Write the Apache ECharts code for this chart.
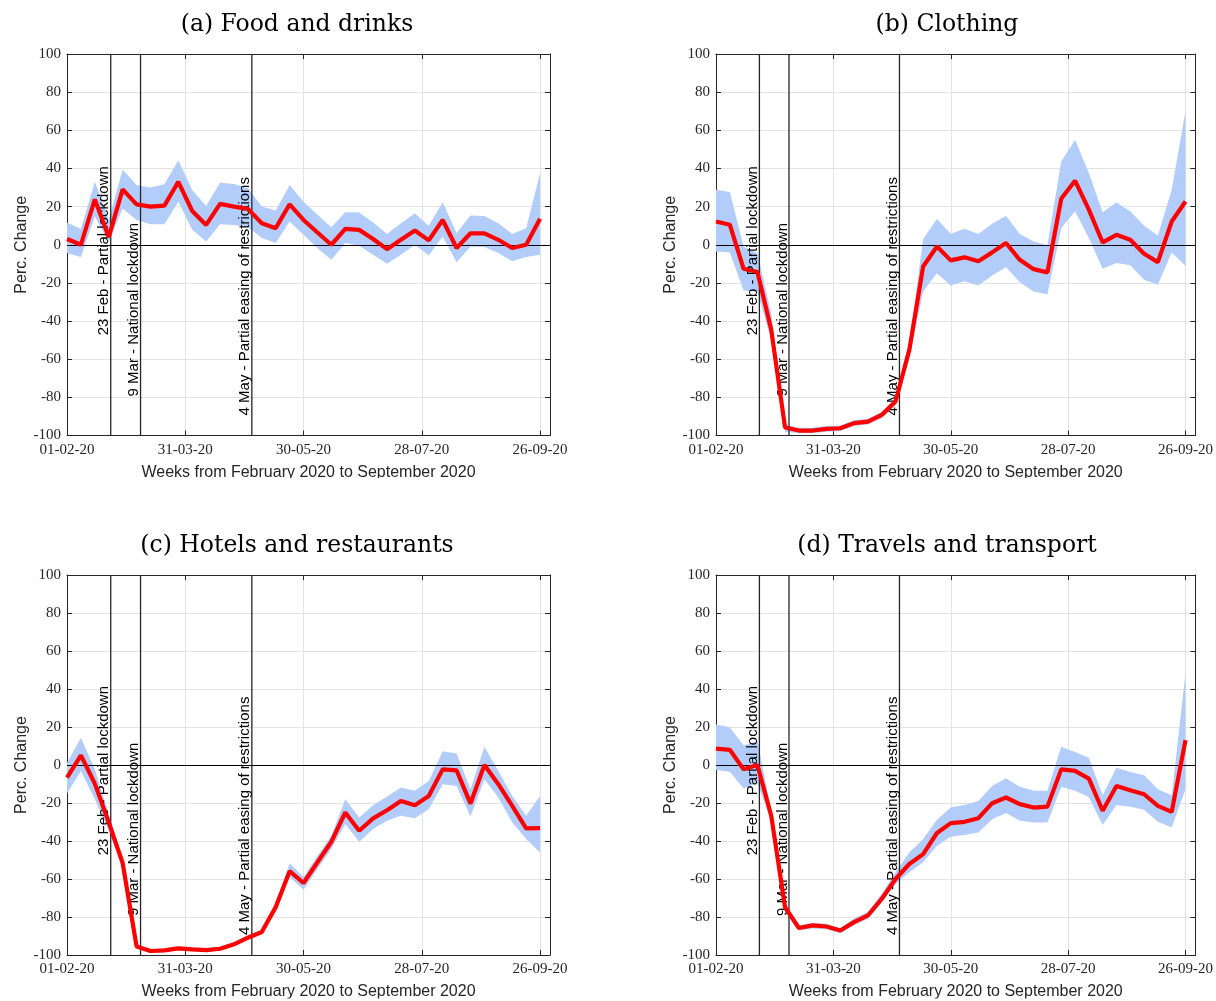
<!DOCTYPE html>
<html>
<head>
<meta charset="utf-8">
<script src="https://cdn.jsdelivr.net/npm/echarts@6/dist/echarts.min.js"></script>
<style>
  html, body { margin: 0; padding: 0; background: #fff; }
  #chart { width: 1216px; height: 1001px; }
</style>
</head>
<body>
<div id="chart"></div>
<script>
var chart = echarts.init(document.getElementById('chart'));

// days since 01-02-20, one point per week
var weekDay = [0, 7, 14, 21, 28, 35, 42, 49, 56, 63, 70, 77, 84, 91, 98, 105, 112, 119, 126,
    133, 140, 147, 154, 161, 168, 175, 182, 189, 196, 203, 210, 217, 224, 231, 238];

var tickLabels = ['01-02-20', '31-03-20', '30-05-20', '28-07-20', '26-09-20'];

var eventDays = [22, 37, 93];
var eventNames = ['23 Feb - Partial lockdown', '9 Mar - National lockdown', '4 May - Partial easing of restrictions'];

var titles = ['(a) Food and drinks', '(b) Clothing', '(c) Hotels and restaurants', '(d) Travels and transport'];

// (a) food and drinks
var foodMid = [3, 0, 23.8, 4, 29, 21.2, 20, 20.5, 33, 17.7, 10.4, 21.4, 20, 18.8, 11.3, 8.7, 21.2, 13, 6.4, 0,
    8.3, 7.8, 3, -2.3, 2.6, 7.5, 2.3, 13, -1.7, 6, 6, 2.6, -1.7, 0, 13.6];
var foodUp = [11.7, 8.2, 33, 13, 39.5, 31.3, 30, 31.7, 44.3, 28.7, 20.3, 32.5, 31.8, 29.6, 20, 17.9, 31.3, 22.6, 15.7, 9.2,
    17, 16.9, 11.7, 5.7, 11.3, 16.5, 9.9, 22.3, 6.1, 15.3, 15.1, 11.3, 5.7, 8.7, 37.4];
var foodLow = [-4.3, -6.4, 14.8, 1.5, 19, 13, 10.8, 10.8, 22.6, 7.8, 1.7, 10.8, 10.4, 9.2, 3.5, 0.9, 12.2, 5.2, -1.7, -7.8,
    0.9, -0.5, -5.2, -9.9, -5.2, 0, -5.7, 4.3, -9.2, -0.9, -1.2, -4.3, -8.7, -6.4, -5.2];

// (b) clothing
var clothMid = [12.2, 10.5, -12.6, -14.3, -44.6, -95.8, -97.4, -97.4, -96.5, -96.2, -93.5, -92.7, -89.2, -82.2, -55.1,
    -11.4, -0.9, -8.2, -6.6, -8.7, -4, 0.9, -7.9, -12.8, -14.5, 24.1, 33.6, 18.4, 1.2, 5.2, 2.6, -4.7, -9.1, 12.2, 22.7];
var clothUp = [28.8, 27.6, -1, -4.4, -36, -94, -96, -96, -95, -94.8, -92, -91.2, -87.5, -80.5, -51.6,
    3, 13.5, 5.8, 8.4, 5.6, 11, 15.2, 5.6, 1.7, -0.3, 43.7, 55, 37.6, 17, 22.2, 17.5, 10, 4.9, 28.8, 70];
var clothLow = [-3.5, -4, -24, -24.5, -50, -98, -98.8, -98.8, -98, -97.6, -95, -94.2, -91, -84, -59.4,
    -24.5, -14.9, -21.3, -19.2, -21.3, -16.1, -11.7, -19.6, -24.5, -25.9, 8.7, 17.5, 3.5, -12.6, -9.6, -10.8, -18.4, -21, -4, -11];

// (c) hotels and restaurants
var hotelMid = [-6.6, 5.1, -9.8, -30.2, -51.6, -95.5, -97.9, -97.6, -96.5, -97, -97.4, -96.7, -94.4, -90.9, -87.9,
    -74.8, -55.9, -62.1, -51.2, -40.4, -25, -34.6, -28.1, -23.8, -18.9, -21.2, -16.3, -2.3, -2.8, -20.3, 0, -10.1, -21.5, -33.4, -33.2];
var hotelUp = [1, 14.3, -2.3, -25.9, -49.5, -94.5, -97, -96.6, -95.5, -96, -96.4, -95.7, -93.4, -89.9, -86.9,
    -73.8, -51.7, -59, -47.7, -37.2, -18, -27.6, -21.2, -16.6, -11.9, -13.6, -8.4, 7.3, 6.1, -12.8, 9.6, -3.1, -16.3, -26.7, -16.3];
var hotelLow = [-15, -3.1, -18, -34.6, -53.8, -96.5, -98.9, -98.6, -97.5, -98, -98.4, -97.7, -95.4, -91.9, -88.9,
    -75.8, -59, -65.6, -54.7, -44.2, -31.1, -40.4, -33.7, -29.4, -26.7, -28, -23.3, -10.1, -11, -27.1, -7.5, -17.1, -30.2, -39, -46];

// (d) travels and transport
var travelMid = [8.6, 8, -2.3, 0, -26.7, -74.8, -85.8, -84.4, -85, -87.1, -82.7, -79.2, -70.5, -60, -52.1,
    -46.9, -35.8, -30.6, -29.9, -28, -20.1, -17.1, -20.6, -22.4, -21.9, -2.3, -3.1, -7.2, -24.1, -11, -13.3, -15.4, -21.5, -24.7, 13.1];
var travelUp = [21.3, 19.9, 10.3, 12.6, -24, -73, -84.4, -83, -83.5, -86, -80.6, -77.4, -67.8, -56.5, -46,
    -39, -28.8, -22.4, -21, -18.9, -11, -7, -11.5, -13.6, -13.6, 9.6, 6.8, 3.8, -15.9, -1.4, -3.7, -5.4, -12.8, -15.9, 48.4];
var travelLow = [-2.6, -3.5, -12.4, -9.3, -30, -77.5, -87.1, -86, -86.5, -88.5, -84.4, -81, -72.2, -62.6, -56.5,
    -51.2, -42.5, -37.8, -36.9, -35.5, -28.5, -25.3, -29.4, -30.2, -30.2, -11.5, -13.6, -16.8, -31.6, -21, -22, -23.6, -29.9, -32.9, -12.8];

var panels = [
    { mid: foodMid, up: foodUp, low: foodLow },
    { mid: clothMid, up: clothUp, low: clothLow },
    { mid: hotelMid, up: hotelUp, low: hotelLow },
    { mid: travelMid, up: travelUp, low: travelLow }
];

// layout (pixels)
var gridLeft = [67, 716, 67, 716];
var gridTop = [54, 54, 575, 575];
var gridW = 483, gridH = 381.5;
var titleX = [292, 942, 292, 942];
var titleY = [8, 8, 529, 529];
// where the rotated event labels start (data units)
var eventLabelY = [-47.5, -79.5, -89.5];

var axisColor = '#262626';
var tickFont = 'Liberation Serif';
var sansFont = 'Liberation Sans';
var step = 59.5;

var option = {
    animation: false,
    backgroundColor: '#fff',
    title: [],
    grid: [],
    xAxis: [],
    yAxis: [],
    series: [],
    // the exported figure cuts the x axis titles just under their baseline
    graphic: [
        { type: 'rect', left: 0, top: 478, shape: { width: 1216, height: 14 }, style: { fill: '#fff' }, z: 100, silent: true },
        { type: 'rect', left: 0, top: 998.5, shape: { width: 1216, height: 3 }, style: { fill: '#fff' }, z: 100, silent: true }
    ]
};

function bandRenderer(d) {
    // the whole band is one polygon, drawn once
    return function (params, api) {
        if (params.dataIndex !== 0) return null;
        var pts = [];
        for (var i = 0; i < weekDay.length; i++) pts.push(api.coord([weekDay[i], d.up[i]]));
        for (var j = weekDay.length - 1; j >= 0; j--) pts.push(api.coord([weekDay[j], d.low[j]]));
        return { type: 'polygon', shape: { points: pts }, style: { fill: '#b3cdfb' } };
    };
}

for (var p = 0; p < 4; p++) {
    var d = panels[p];
    option.title.push({
        text: titles[p],
        left: titleX[p],
        top: titleY[p],
        textAlign: 'center',
        textStyle: { fontFamily: 'DejaVu Serif', fontSize: 23.5, fontWeight: 'normal', color: '#000' }
    });
    option.grid.push({ left: gridLeft[p], top: gridTop[p], width: gridW, height: gridH });

    // bottom x axis
    option.xAxis.push({
        type: 'value', gridIndex: p, min: 0, max: 243, interval: step,
        name: 'Weeks from February 2020 to September 2020',
        nameLocation: 'middle', nameGap: 29,
        nameTextStyle: { fontFamily: sansFont, fontSize: 16, color: axisColor },
        axisLine: { show: true, onZero: false, lineStyle: { color: axisColor, width: 1 } },
        axisTick: { show: true, inside: true, length: 5, lineStyle: { color: axisColor } },
        axisLabel: {
            show: true, margin: 7, fontFamily: tickFont, fontSize: 15, color: axisColor,
            showMaxLabel: false,
            formatter: function (v) {
                var k = Math.round(v / step);
                return Math.abs(v - k * step) < 0.01 && k < tickLabels.length ? tickLabels[k] : '';
            }
        },
        splitLine: { show: true, lineStyle: { color: '#e3e3e3', width: 1 } }
    });
    // top x axis (box)
    option.xAxis.push({
        type: 'value', gridIndex: p, position: 'top', min: 0, max: 243, interval: step,
        axisLine: { show: true, onZero: false, lineStyle: { color: axisColor, width: 1 } },
        axisTick: { show: true, inside: true, length: 5, lineStyle: { color: axisColor } },
        axisLabel: { show: false },
        splitLine: { show: false }
    });
    // left y axis
    option.yAxis.push({
        type: 'value', gridIndex: p, min: -100, max: 100, interval: 20,
        name: 'Perc. Change', nameLocation: 'middle', nameGap: 37, nameRotate: 90,
        nameTextStyle: { fontFamily: sansFont, fontSize: 16, color: axisColor },
        axisLine: { show: true, onZero: false, lineStyle: { color: axisColor, width: 1 } },
        axisTick: { show: true, inside: true, length: 5, lineStyle: { color: axisColor } },
        axisLabel: { margin: 6, fontFamily: tickFont, fontSize: 15, color: axisColor },
        splitLine: { show: true, lineStyle: { color: '#e3e3e3', width: 1 } }
    });
    // right y axis (box)
    option.yAxis.push({
        type: 'value', gridIndex: p, position: 'right', min: -100, max: 100, interval: 20,
        axisLine: { show: true, onZero: false, lineStyle: { color: axisColor, width: 1 } },
        axisTick: { show: true, inside: true, length: 5, lineStyle: { color: axisColor } },
        axisLabel: { show: false },
        splitLine: { show: false }
    });

    var xi = p * 2, yi = p * 2;

    option.series.push({
        type: 'custom', xAxisIndex: xi, yAxisIndex: yi, silent: true, z: 1,
        data: weekDay.map(function (v, i) { return [v, d.low[i], d.up[i]]; }),
        encode: { x: 0, y: [1, 2] },
        renderItem: bandRenderer(d)
    });
    option.series.push({
        type: 'custom', xAxisIndex: xi, yAxisIndex: yi, silent: true, z: 3,
        data: eventDays.map(function (v, i) { return [v, eventLabelY[i]]; }),
        encode: { x: 0, y: 1 },
        renderItem: function (params, api) {
            var x = api.value(0);
            var top = api.coord([x, 100]);
            var bot = api.coord([x, -100]);
            var anchor = api.coord([x, api.value(1)]);
            return {
                type: 'group',
                children: [{
                    type: 'line',
                    shape: { x1: top[0], y1: top[1], x2: bot[0], y2: bot[1] },
                    style: { stroke: axisColor, lineWidth: 1.3 }
                }, {
                    type: 'text',
                    x: anchor[0] + 1, y: anchor[1],
                    rotation: Math.PI / 2,
                    style: {
                        text: eventNames[params.dataIndex],
                        fontFamily: sansFont, fontSize: 15,
                        fill: '#000', align: 'left', verticalAlign: 'bottom'
                    }
                }]
            };
        }
    });
    option.series.push({
        type: 'line', xAxisIndex: xi, yAxisIndex: yi,
        data: d.mid.map(function (v, i) { return [weekDay[i], v]; }),
        symbol: 'none', silent: true,
        lineStyle: { color: '#ff0000', width: 4.2 }, z: 5,
        markLine: {
            silent: true, symbol: 'none', label: { show: false },
            lineStyle: { color: '#000', width: 1.2, type: 'solid' },
            data: [{ yAxis: 0 }]
        }
    });
}

chart.setOption(option);
</script>
</body>
</html>
